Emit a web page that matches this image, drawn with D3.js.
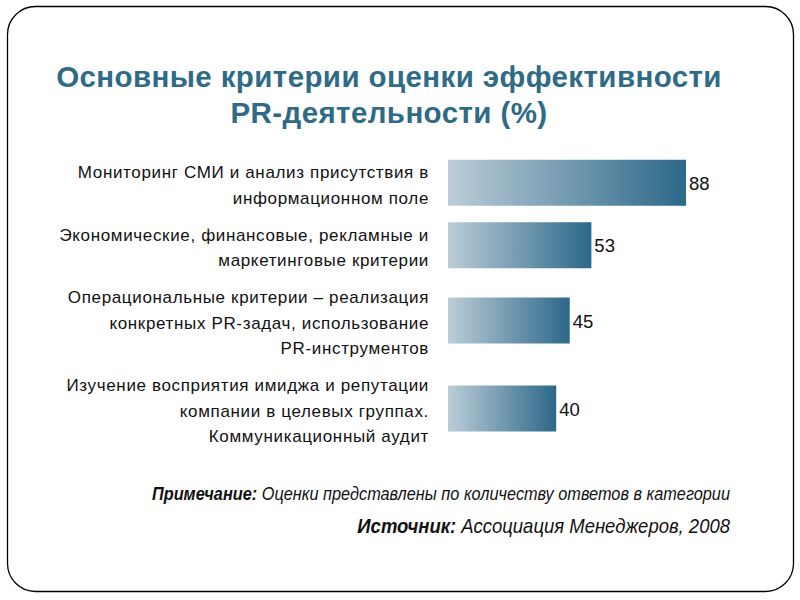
<!DOCTYPE html>
<html><head><meta charset="utf-8">
<script src="https://cdn.jsdelivr.net/npm/d3@7"></script>
<style>body{margin:0;background:#fff}svg{display:block}</style>
</head><body>
<script>
const titleLines = ["Основные критерии оценки эффективности", "PR-деятельности (%)"];
const categories = [
  ["Мониторинг СМИ и анализ присутствия в", "информационном поле"],
  ["Экономические, финансовые, рекламные и", "маркетинговые критерии"],
  ["Операциональные критерии – реализация", "конкретных PR-задач, использование", "PR-инструментов"],
  ["Изучение восприятия имиджа и репутации", "компании в целевых группах.", "Коммуникационный аудит"]
];
const values = [88, 53, 45, 40];
const noteLabel = "Примечание:";
const noteText = " Оценки представлены по количеству ответов в категории";
const sourceLabel = "Источник:";
const sourceText = " Ассоциация Менеджеров, 2008";

const W = 800, H = 600;
const svg = d3.select("body").append("svg").attr("width", W).attr("height", H);
const defs = svg.append("defs");
const grad = defs.append("linearGradient").attr("id", "barGrad")
  .attr("x1", "0%").attr("x2", "100%").attr("y1", "0%").attr("y2", "0%");
grad.append("stop").attr("offset", "0%").attr("stop-color", "#bccdd8");
grad.append("stop").attr("offset", "100%").attr("stop-color", "#2c6889");

// frame
svg.append("rect").attr("x", 7.5).attr("y", 6.5).attr("width", 786).attr("height", 585)
  .attr("rx", 28).attr("ry", 28).attr("fill", "none").attr("stroke", "#000").attr("stroke-width", 1.3);

// title
const title = svg.append("text").attr("text-anchor", "middle")
  .attr("font-family", "Liberation Sans, Arial, sans-serif").attr("font-weight", "bold")
  .attr("font-size", 29.5).attr("letter-spacing", 0.4).attr("fill", "#2f6a86");
titleLines.forEach((t, i) => title.append("tspan").attr("x", 389).attr("y", 87 + i * 36).text(t));

// layout of label blocks
const lineH = 25.5, blockGap = 37, firstLine = 172;
let cursor = firstLine;
const blocks = categories.map((lines, i) => {
  const start = cursor;
  const end = start + (lines.length - 1) * lineH;
  cursor = end + blockGap;
  return { lines, start, center: (start + end) / 2, value: values[i] };
});

const x = d3.scaleLinear().domain([0, 100]).range([448, 448 + 270.5]);
const barH = 46;

const g = svg.append("g");
g.selectAll("rect.bar").data(blocks).join("rect").attr("class", "bar")
  .attr("x", x(0)).attr("y", d => d.center - 2 - barH / 2)
  .attr("width", d => x(d.value) - x(0)).attr("height", barH)
  .attr("fill", "url(#barGrad)");

g.selectAll("text.val").data(blocks).join("text").attr("class", "val")
  .attr("x", d => x(d.value) + 3).attr("y", d => d.center + 5)
  .attr("font-family", "Liberation Sans, Arial, sans-serif").attr("font-size", 18.5).attr("fill", "#111")
  .text(d => d.value);

const lab = g.selectAll("text.lab").data(blocks).join("text").attr("class", "lab")
  .attr("text-anchor", "end").attr("font-family", "Liberation Sans, Arial, sans-serif")
  .attr("font-size", 17).attr("letter-spacing", 0.65).attr("fill", "#111");
lab.selectAll("tspan").data(d => d.lines.map((l, j) => ({ l, y: d.start + j * lineH })))
  .join("tspan").attr("x", 429).attr("y", d => d.y + 6).text(d => d.l);

// footnotes
const foot = [[noteLabel, noteText, 500, 17.5, 0.932], [sourceLabel, sourceText, 533, 20, 0.925]];
foot.forEach(([a, b, y, fs, sx]) => {
  const t = svg.append("text").attr("transform", `translate(730,${y}) scale(${sx},1)`)
    .attr("text-anchor", "end")
    .attr("font-family", "Liberation Sans, Arial, sans-serif")
    .attr("font-size", fs).attr("font-style", "italic").attr("fill", "#111");
  t.append("tspan").attr("font-weight", "bold").text(a);
  t.append("tspan").text(b);
});
</script>
</body></html>
